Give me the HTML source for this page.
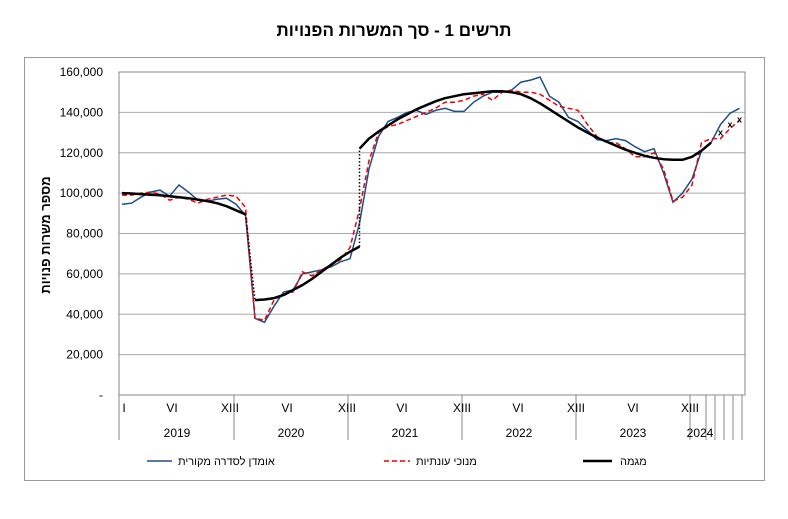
<!DOCTYPE html>
<html><head><meta charset="utf-8">
<style>
body{margin:0;background:#fff;}
svg text{font-family:"Liberation Sans","Noto Sans CJK SC",sans-serif;fill:#000;}
</style></head>
<body>
<svg id="chart" width="788" height="514" viewBox="0 0 788 514" xmlns="http://www.w3.org/2000/svg">
<text x="394" y="36" text-anchor="middle" font-size="17" font-weight="bold" direction="rtl">תרשים 1 - סך המשרות הפנויות</text>
<rect x="24.5" y="57.5" width="740" height="423" fill="none" stroke="#999" stroke-width="1"/>
<g id="grid"></g>
<g id="xaxis"></g>
<g id="series"></g>
<text transform="translate(50,235) rotate(-90)" text-anchor="middle" font-size="13" font-weight="bold" direction="rtl">מספר משרות  פנויות</text>
<g>
  <line x1="147" y1="461" x2="172" y2="461" stroke="#1f4e89" stroke-width="1.5"/>
  <text x="178" y="465" font-size="11">אומדן לסדרה מקורית</text>
  <line x1="384" y1="461" x2="410" y2="461" stroke="#e00" stroke-width="1.5" stroke-dasharray="5,3"/>
  <text x="416" y="465" font-size="11">מנוכי עונתיות</text>
  <line x1="583" y1="461" x2="612" y2="461" stroke="#000" stroke-width="2.5"/>
  <text x="620" y="465" font-size="11">מגמה</text>
</g>
</svg>
<script>
const yTicks=[0,20000,40000,60000,80000,100000,120000,140000,160000];
const tickLabels=["I","VI","XIII","VI","XIII","VI","XIII","VI","XIII","VI","XIII"];
const years=["2019","2020","2021","2022","2023","2024"];
const original=[94.5,95,98,100.5,101.5,98.5,104,100.5,96.5,96,97,97.5,94.5,89,38,36,44,51,52,60,61,62,63.5,66,67.5,85,112,128,135.5,137.5,140,141,139,141,142,140.5,140.5,145,148,150,150,151,155,156,157.5,148,145,137.5,135.5,131,126.5,126,127,126,123,120.5,122,110,95.5,100,107,121,125,134,139.5,142];
const seasonal=[99,99,100,100.5,99.5,96.5,98,97,95,97,98,99,98.5,93,38,37,47,50,51,61,59,62,64.5,67,73,92,116,130,133,134,136,138,140,142,145,145,146,148,149,146,150,151,150,150,149,146,143,142,141,134,128,125,125,122,118,118,120,112,96,98,104,125,127,127,132,136];
const trend1=[100,99.8,99.5,99.2,98.9,98.5,98,97.5,96.8,96,95,93.5,91.5,89.5];
const trend2=[47,47.3,48,49.5,52,54.5,57.5,61,64.5,68,71,73.5];
const trend3=[122,127,130.5,133.5,136.5,139,141.5,143.5,145.5,147,148,149,149.5,150,150.5,150.5,150,149,147,144.5,141.5,138.5,135.5,132.5,130,127.5,125.5,123.5,121.5,120,118.5,117.5,116.8,116.5,116.5,118,121,125];
const trendMarks=[130,134,136.5];
const trend2Start=14, trend3Start=25, marksStart=63;

const NS="http://www.w3.org/2000/svg";
const X0=122, DX=9.5, Y0=395, YTOP=72, VMAX=160000;
const xs=i=>X0+i*DX;
const ys=v=>Y0-(v/VMAX)*(Y0-YTOP);
const yk=v=>ys(v*1000);
function mk(tag,attrs,parent){const e=document.createElementNS(NS,tag);for(const k in attrs)e.setAttribute(k,attrs[k]);parent.appendChild(e);return e;}
const grid=document.getElementById('grid'), xa=document.getElementById('xaxis'), ser=document.getElementById('series');

yTicks.forEach(t=>{
  const l=mk('line',{x1:119,x2:745,y1:ys(t),y2:ys(t),stroke:'#aaa','stroke-width':1},grid);
  
  
  const tx=mk('text',{x:103,y:ys(t)+4,'text-anchor':'end','font-size':12},grid);
  
  
  tx.textContent=t===0?'-':t.toLocaleString('en-US');
});
const box=mk('rect',{x:119,y:YTOP,width:626,height:Y0-YTOP,fill:'none',stroke:'#888','stroke-width':1},grid);



const sepX=[119,234,348,462,576,690,706,715,724,733,742];
sepX.forEach(x=>{
  const l=mk('line',{x1:x,x2:x,y1:Y0,y2:440,stroke:'#888','stroke-width':1},xa);
  
  
});
const tickX=[124,172,230,287,347,402,462,518,576,633,690];
tickLabels.forEach((t,i)=>{
  const tx=mk('text',{x:tickX[i],y:412,'text-anchor':'middle','font-size':12},xa);
  
  
  tx.textContent=t;
});
const yearX=[177,291,405,519,633,700];
years.forEach((y,i)=>{
  const tx=mk('text',{x:yearX[i],y:437,'text-anchor':'middle','font-size':12},xa);
  
  
  tx.textContent=y;
});

function pts(arr,start){return arr.map((v,i)=>xs(start+i).toFixed(1)+','+yk(v).toFixed(1)).join(' ');}
const po=mk('polyline',{points:pts(original,0),fill:'none',stroke:'#1f4e89','stroke-width':1.5},ser);


const ps=mk('polyline',{points:pts(seasonal,0),fill:'none',stroke:'#e00','stroke-width':1.5,'stroke-dasharray':'5,3'},ser);


const c1=mk('line',{x1:xs(trend1.length-1),y1:yk(trend1[trend1.length-1]),x2:xs(trend2Start),y2:yk(trend2[0]),stroke:'#000','stroke-width':1.5,'stroke-dasharray':'1.5,2'},ser);


const c2=mk('line',{x1:xs(trend2Start+trend2.length-1),y1:yk(trend2[trend2.length-1]),x2:xs(trend3Start),y2:yk(trend3[0]),stroke:'#000','stroke-width':1.5,'stroke-dasharray':'1.5,2'},ser);


[[trend1,0],[trend2,trend2Start],[trend3,trend3Start]].forEach(([a,s])=>{
  const p=mk('polyline',{points:pts(a,s),fill:'none',stroke:'#000','stroke-width':2.5,'stroke-linejoin':'round'},ser);
  
  
});
trendMarks.forEach((v,i)=>{
  const t=mk('text',{x:xs(marksStart+i),y:yk(v)+3,'text-anchor':'middle','font-size':9,'font-weight':'bold'},ser);
  
  
  t.textContent='x';
});
</script>
</body></html>
